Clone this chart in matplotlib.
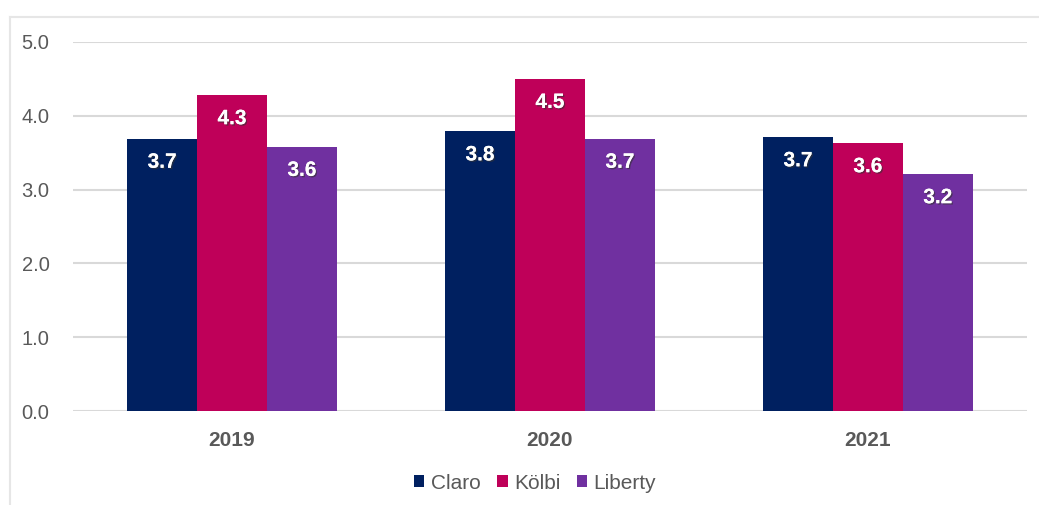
import numpy as np
import matplotlib.pyplot as plt
import matplotlib.patheffects as pe
from matplotlib.lines import Line2D

plt.rcParams['font.family'] = ['Liberation Sans', 'DejaVu Sans']

years = ['2019', '2020', '2021']
operators = ['Claro', 'Kölbi', 'Liberty']
claro = [3.69, 3.79, 3.71]
kolbi = [4.28, 4.50, 3.63]
liberty = [3.58, 3.69, 3.21]
colors = ['#002060', '#BF0059', '#7030A0']

fig = plt.figure(figsize=(10.39, 5.05), dpi=100)
ax = fig.add_axes([0.0703, 0.186, 0.918, 0.731])

x = np.arange(len(years))
w = 0.22
shadow = [pe.withSimplePatchShadow(offset=(1, -1), shadow_rgbFace='#333333', alpha=0.6), pe.Normal()]
for i, (vals, name) in enumerate(zip([claro, kolbi, liberty], operators)):
    pos = x + (i - 1) * w
    ax.bar(pos, vals, w, color=colors[i], label=name, zorder=3)
    for px, v in zip(pos, vals):
        ax.text(px, v - 0.32, f'{v:.1f}', ha='center', va='center', color='white',
                fontsize=15, fontweight='bold', zorder=4, path_effects=shadow)

ax.set_xlim(-0.5, 2.5)
ax.set_ylim(0, 5)
ax.set_yticks(np.arange(0, 5.1, 1.0))
ax.set_yticklabels([f'{t:.1f}' for t in np.arange(0, 5.1, 1.0)])
ax.set_xticks(x)
ax.set_xticklabels(years, fontweight='bold')
ax.grid(axis='y', color='#D9D9D9', linewidth=1.5, zorder=0)
for s in ax.spines.values():
    s.set_visible(False)
ax.tick_params(axis='y', length=0, pad=17, labelsize=14.5, labelcolor='#595959')
ax.tick_params(axis='x', length=0, pad=14, labelsize=15, labelcolor='#595959')

leg = fig.legend(loc='center', bbox_to_anchor=(0.515, 0.043), ncol=3, frameon=False,
                 fontsize=15, handlelength=0.5, handleheight=0.5, handletextpad=0.3,
                 columnspacing=0.8)
for t in leg.get_texts():
    t.set_color('#595959')

# outer frame
fig.add_artist(Line2D([10 / 1039, 1], [1 - 17 / 505, 1 - 17 / 505], color='#E6E6E6', linewidth=1.5))
fig.add_artist(Line2D([10 / 1039, 10 / 1039], [0, 1 - 17 / 505], color='#E6E6E6', linewidth=1.5))

fig.savefig('out.png', dpi=100)
